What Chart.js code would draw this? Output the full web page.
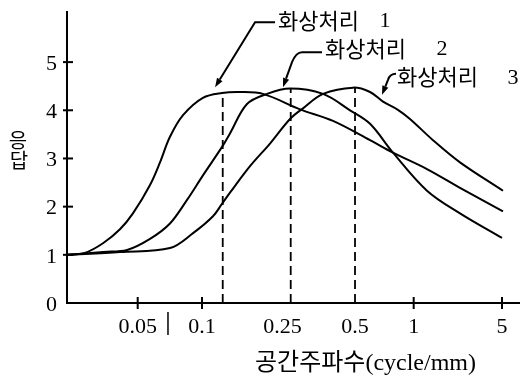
<!DOCTYPE html>
<html><head><meta charset="utf-8">
<script src="https://cdn.jsdelivr.net/npm/chart.js@4.4.1/dist/chart.umd.min.js"></script>
<style>html,body{margin:0;padding:0;background:#fff;}#wrap{width:520px;height:379px;}</style>
</head><body><div id="wrap"><canvas id="c" width="520" height="379"></canvas></div>
<script>
// ---- data ----
const tickValues = [0.05, 0.1, 0.25, 0.5, 1, 5];
const tickLabels = ['0.05', '0.1', '0.25', '0.5', '1', '5'];
const tickMarks = [0.05, 0.1, 1, 5];
const yTicks = [0, 1, 2, 3, 4, 5];
const seriesNames = ['화상처리 1', '화상처리 2', '화상처리 3'];
const xTitleKo = '공간주파수';
const xTitleEn = '(cycle/mm)';
const yTitle = ['응', '답'];

const freq1 = [0.0234, 0.0283, 0.0344, 0.0413, 0.0475, 0.0571, 0.0636, 0.0708, 0.0815, 0.101, 0.1256, 0.1541, 0.2002, 0.2955, 0.4051, 0.597, 0.783, 1.274, 2.325, 5.09];
const resp1 = [1.0, 1.04, 1.24, 1.53, 1.86, 2.45, 2.92, 3.45, 3.90, 4.26, 4.36, 4.38, 4.34, 4.02, 3.78, 3.38, 3.12, 2.78, 2.39, 1.90];

const freq2 = [0.0234, 0.0344, 0.0446, 0.0571, 0.0708, 0.0851, 0.1011, 0.1256, 0.1375, 0.1669, 0.2096, 0.2686, 0.3682, 0.4767, 0.597, 0.783, 1.274, 2.325, 5.0];
const resp2 = [1.0, 1.06, 1.10, 1.33, 1.65, 2.14, 2.65, 3.24, 3.52, 4.13, 4.34, 4.45, 4.34, 4.0, 3.72, 3.12, 2.33, 1.86, 1.35];

const freq3 = [0.0234, 0.0413, 0.0708, 0.0908, 0.1133, 0.1256, 0.1375, 0.1727, 0.2168, 0.2686, 0.3041, 0.3682, 0.4905, 0.597, 0.696, 0.83, 0.957, 1.422, 2.325, 5.09];
const resp3 = [1.0, 1.06, 1.14, 1.45, 1.80, 2.06, 2.29, 2.84, 3.31, 3.82, 4.04, 4.34, 4.47, 4.38, 4.18, 4.01, 3.82, 3.38, 2.92, 2.33];

const peakFreq = [0.1266, 0.2704, 0.5];
const peakResp = [4.38, 4.46, 4.46];
const breakFreq = 0.0693;

// ---- axis layout: fraction of plot width at which each tick value sits ----
const axisStops = [0.1564, 0.2987, 0.4768, 0.6372, 0.7670, 0.9624];
function warp(f) {
  const lf = Math.log(f);
  const lv = tickValues.map(Math.log);
  let i = 0;
  if (lf >= lv[lv.length - 1]) i = lv.length - 2;
  else if (lf > lv[0]) { while (lf > lv[i + 1]) i++; }
  const t = (lf - lv[i]) / (lv[i + 1] - lv[i]);
  return axisStops[i] + t * (axisStops[i + 1] - axisStops[i]);
}

// ---- annotation layout (tip in data coords, rest as pixel offsets) ----
const notes = [
  {tip: [0.116, 4.48], path: [[60, -65], [40, -65]], ctrl: null, text: [63, -67], num: 107},
  {tip: [0.2512, 4.48], path: [[39, -35], [19, -35]], ctrl: [[13, -35], [9, -25]], text: [42, -39], num: 117},
  {tip: [0.6877, 4.32], path: [[14, -21]], ctrl: [[8, -21], [6, -15]], text: [15, -18], num: 116}
];

const serif = "'Liberation Serif', 'Times New Roman', serif";
const kor = "'Noto Sans CJK KR', sans-serif";

function curve(fr, rs) {
  return {
    data: fr.map((f, i) => ({x: warp(f), y: rs[i]})),
    borderColor: '#000', borderWidth: 2, pointRadius: 0,
    tension: 0.35, fill: false
  };
}
const datasets = [curve(freq1, resp1), curve(freq2, resp2), curve(freq3, resp3)];
peakFreq.forEach((f, i) => datasets.push({
  data: [{x: warp(f), y: 0}, {x: warp(f), y: peakResp[i]}],
  borderColor: '#000', borderWidth: 1.8, borderDash: [9, 5], pointRadius: 0, fill: false
}));

const decor = {
  id: 'decor',
  afterDatasetsDraw(chart) {
    const {ctx, chartArea: a, scales: {x, y}} = chart;
    ctx.save();
    ctx.strokeStyle = '#000'; ctx.fillStyle = '#000'; ctx.lineWidth = 2;
    tickMarks.forEach(v => {
      const px = x.getPixelForValue(warp(v));
      ctx.beginPath(); ctx.moveTo(px, a.bottom - 6); ctx.lineTo(px, a.bottom + 6); ctx.stroke();
    });
    yTicks.filter(v => v > 0).forEach(v => {
      const py = y.getPixelForValue(v);
      ctx.beginPath(); ctx.moveTo(a.left - 4, py); ctx.lineTo(a.left + 6, py); ctx.stroke();
    });
    const bx = x.getPixelForValue(warp(breakFreq));
    ctx.lineWidth = 1.5;
    ctx.beginPath(); ctx.moveTo(bx, a.bottom + 9); ctx.lineTo(bx, a.bottom + 32); ctx.stroke();

    // arrows + labels
    notes.forEach((n, i) => {
      const tx = x.getPixelForValue(warp(n.tip[0])), ty = y.getPixelForValue(n.tip[1]);
      ctx.lineWidth = 2;
      ctx.beginPath();
      ctx.moveTo(tx + n.path[0][0], ty + n.path[0][1]);
      for (let k = 1; k < n.path.length; k++) ctx.lineTo(tx + n.path[k][0], ty + n.path[k][1]);
      let lx = tx + n.path[n.path.length - 1][0], ly = ty + n.path[n.path.length - 1][1];
      if (n.ctrl) {
        ctx.quadraticCurveTo(tx + n.ctrl[0][0], ty + n.ctrl[0][1], tx + n.ctrl[1][0], ty + n.ctrl[1][1]);
        lx = tx + n.ctrl[1][0]; ly = ty + n.ctrl[1][1];
      }
      const ang = Math.atan2(ty - ly, tx - lx);
      const hl = 9, hw = 3.2;
      const bxh = tx - hl * Math.cos(ang), byh = ty - hl * Math.sin(ang);
      ctx.lineTo(bxh, byh);
      ctx.stroke();
      ctx.beginPath();
      ctx.moveTo(tx, ty);
      ctx.lineTo(bxh + hw * Math.sin(ang), byh - hw * Math.cos(ang));
      ctx.lineTo(bxh - hw * Math.sin(ang), byh + hw * Math.cos(ang));
      ctx.closePath(); ctx.fill();

      const parts = seriesNames[i].split(' ');
      const sx = tx + n.text[0], sy = ty + n.text[1];
      ctx.textBaseline = 'middle';
      ctx.textAlign = 'left';
      ctx.font = '22px ' + kor;
      ctx.fillText(parts[0], sx, sy);
      ctx.textAlign = 'center';
      ctx.font = '22px ' + serif;
      ctx.fillText(parts[1], sx + n.num, sy + 1);
    });

    // y title (stacked, upright)
    ctx.font = '20px ' + kor;
    ctx.textAlign = 'center'; ctx.textBaseline = 'middle';
    ctx.fillText(yTitle[0], a.left - 49, a.top + 128);
    ctx.fillText(yTitle[1], a.left - 48, a.top + 148);

    // x title
    ctx.textAlign = 'left'; ctx.textBaseline = 'alphabetic';
    ctx.font = '24px ' + kor;
    const kx = a.left + 188, ky = a.bottom + 67;
    ctx.fillText(xTitleKo, kx, ky);
    const w = ctx.measureText(xTitleKo).width;
    ctx.font = '24px ' + serif;
    ctx.fillText(xTitleEn, kx + w, ky);
    ctx.restore();
  }
};

new Chart(document.getElementById('c'), {
  type: 'line',
  data: {datasets},
  plugins: [decor],
  options: {
    responsive: false, animation: false, devicePixelRatio: 1, events: [],
    layout: {padding: {top: 12, right: 1, left: 0, bottom: 0}},
    plugins: {legend: {display: false}, tooltip: {enabled: false}},
    scales: {
      x: {
        type: 'linear', min: 0, max: 1,
        afterBuildTicks: s => { s.ticks = tickValues.map(v => ({value: warp(v)})); },
        afterFit: s => { s.height = 76; s.paddingLeft = 0; s.paddingRight = 0; },
        grid: {display: false, drawTicks: false},
        border: {display: true, color: '#000', width: 2},
        ticks: {
          callback: (v, i) => tickLabels[i], autoSkip: false, maxRotation: 0,
          color: '#000', padding: 11, font: {family: serif, size: 22}
        }
      },
      y: {
        type: 'linear', min: 0, max: 6.04,
        afterBuildTicks: s => { s.ticks = yTicks.map(v => ({value: v})); },
        afterFit: s => { s.width = 67; s.paddingTop = 0; s.paddingBottom = 0; },
        grid: {display: false, drawTicks: false},
        border: {display: true, color: '#000', width: 2},
        ticks: {
          callback: v => String(v), color: '#000', padding: 10, labelOffset: 2,
          font: {family: serif, size: 22}
        }
      }
    }
  }
});
</script>
</body></html>
